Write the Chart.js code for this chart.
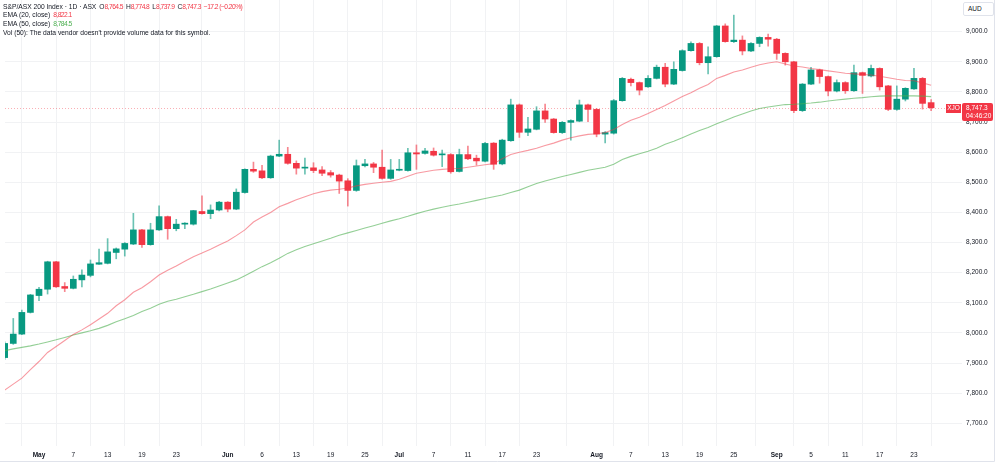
<!DOCTYPE html>
<html>
<head>
<meta charset="utf-8">
<script src="https://cdn.jsdelivr.net/npm/chart.js@4.4.0/dist/chart.umd.min.js"></script>
<style>
  html, body { margin: 0; padding: 0; background: #fff; }
  #wrap { position: relative; width: 1000px; height: 464px; font-family: "Liberation Sans", Arial, sans-serif; }
  #legend { position: absolute; left: 3px; top: 2.5px; font-size: 6.7px; line-height: 8.7px; color: #131722; white-space: nowrap; }
  #legend .v { letter-spacing: -0.55px; }
  #legend .r { color: #f23645; }
  #legend .g { color: #4caf50; }
  #legend b { font-weight: normal; margin-left: 3px; }
  #cur { position: absolute; left: 963px; top: 2px; width: 29px; height: 12px; border: 1px solid #e0e3eb; border-radius: 2px;
         font-size: 6.5px; line-height: 12px; color: #131722; text-indent: 4px; background: #fff; }
</style>
</head>
<body>
<div id="wrap">
  <canvas id="c" width="1000" height="464"></canvas>
  <div id="legend">
    <div>S&amp;P/ASX 200 Index · 1D · ASX<b>O<span class="v r">8,764.5</span></b><b>H<span class="v r">8,774.8</span></b><b>L<span class="v r">8,737.9</span></b><b>C<span class="v r">8,747.3</span></b><b class="v r">−17.2 (−0.20%)</b></div>
    <div>EMA (20, close)<b class="v r">8,822.1</b></div>
    <div>EMA (50, close)<b class="v g">8,784.5</b></div>
    <div>Vol (50): The data vendor doesn't provide volume data for this symbol.</div>
  </div>
  <div id="cur">AUD</div>
</div>
<script>
const days = ['Apr 24','Apr 28','Apr 29','Apr 30',
  'May 1','May 2','May 5','May 6','May 7','May 8','May 9','May 12','May 13','May 14','May 15','May 16','May 19','May 20','May 21','May 22','May 23','May 26','May 27','May 28','May 29','May 30',
  'Jun 2','Jun 3','Jun 4','Jun 5','Jun 6','Jun 10','Jun 11','Jun 12','Jun 13','Jun 16','Jun 17','Jun 18','Jun 19','Jun 20','Jun 23','Jun 24','Jun 25','Jun 26','Jun 27','Jun 30',
  'Jul 1','Jul 2','Jul 3','Jul 4','Jul 7','Jul 8','Jul 9','Jul 10','Jul 11','Jul 14','Jul 15','Jul 16','Jul 17','Jul 18','Jul 21','Jul 22','Jul 23','Jul 24','Jul 25','Jul 28','Jul 29','Jul 30','Jul 31',
  'Aug 1','Aug 4','Aug 5','Aug 6','Aug 7','Aug 8','Aug 11','Aug 12','Aug 13','Aug 14','Aug 15','Aug 18','Aug 19','Aug 20','Aug 21','Aug 22','Aug 25','Aug 26','Aug 27','Aug 28','Aug 29',
  'Sep 1','Sep 2','Sep 3','Sep 4','Sep 5','Sep 8','Sep 9','Sep 10','Sep 11','Sep 12','Sep 15','Sep 16','Sep 17','Sep 18','Sep 19','Sep 22','Sep 23','Sep 24','Sep 25'];

const open = [7918,7965,7996,8068,8124,8145,8236,8154,8148,8176,8191,8228,8231,8267,8278,8295,8342,8293,8342,8386,8346,8361,8361,8403,8396,8408,
  8434,8411,8466,8543,8538,8515,8587,8593,8563,8547,8548,8541,8532,8524,8505,8473,8555,8561,8550,8513,
  8540,8539,8598,8596,8603,8591,8592,8536,8592,8580,8570,8630,8561,8638,8757,8666,8676,8737,8710,8665,8699,8703,8757,
  8742,8660,8663,8771,8842,8831,8817,8845,8882,8826,8871,8937,8961,8897,8917,9019,8967,8972,8936,8961,8981,
  8975,8928,8900,8738,8826,8873,8851,8803,8831,8804,8864,8853,8878,8820,8742,8776,8810,8845,8764.5];
const high = [7970,8048,8076,8128,8151,8238,8238,8167,8189,8209,8242,8278,8313,8282,8300,8397,8344,8364,8422,8388,8377,8366,8407,8455,8425,8437,
  8436,8478,8545,8567,8556,8590,8640,8616,8571,8580,8565,8552,8539,8527,8512,8574,8576,8566,8607,8576,
  8576,8613,8624,8613,8614,8607,8595,8610,8620,8590,8633,8632,8643,8776,8760,8716,8751,8760,8712,8702,8707,8773,8760,
  8745,8668,8775,8848,8846,8833,8854,8889,8895,8900,8940,8966,8964,8950,9021,9026,9055,8986,8964,8983,8992,
  8978,8930,8902,8828,8882,8876,8853,8840,8834,8889,8866,8889,8880,8822,8820,8814,8878,8848,8774.8];
const low = [7912,7962,7994,8066,8107,8129,8151,8137,8146,8153,8186,8227,8229,8246,8255,8293,8284,8291,8340,8311,8339,8346,8358,8394,8379,8405,
  8402,8409,8464,8533,8512,8513,8585,8560,8527,8527,8532,8522,8517,8463,8421,8470,8551,8532,8510,8510,
  8538,8537,8543,8593,8587,8552,8530,8534,8575,8557,8568,8543,8558,8636,8649,8655,8674,8699,8663,8662,8640,8701,8701,
  8651,8631,8660,8769,8820,8790,8815,8843,8817,8824,8869,8935,8890,8860,8915,8965,8964,8923,8934,8950,8952,
  8908,8889,8731,8735,8824,8829,8787,8800,8795,8802,8795,8850,8806,8738,8739,8770,8808,8743,8737.9];
const close = [7965,7996,8068,8126,8145,8236,8153,8148,8178,8192,8229,8233,8269,8279,8297,8342,8293,8342,8386,8346,8361,8362,8406,8396,8408,8434,
  8411,8467,8543,8537,8515,8587,8593,8563,8547,8549,8539,8530,8524,8504,8473,8555,8561,8550,8513,8541,
  8543,8598,8594,8604,8590,8592,8535,8592,8578,8571,8629,8560,8640,8757,8666,8677,8737,8710,8665,8699,8705,8757,8742,
  8660,8665,8771,8845,8831,8806,8845,8882,8826,8875,8937,8961,8897,8917,9019,8967,8972,8936,8961,8981,8975,
  8928,8900,8738,8826,8873,8851,8803,8831,8804,8864,8855,8878,8817,8742,8776,8812,8845,8762,8747.3];

const ema20 = [7810,7830,7850,7878,7905,7935,7955,7975,7995,8010,8027,8046,8065,8090,8110,8135,8150,8170,8192,8208,8222,8238,8253,8265,8278,8292,
  8305,8323,8342,8368,8385,8400,8419,8430,8442,8452,8462,8469,8474,8477,8481,8488,8493,8497,8500,8503,
  8510,8520,8530,8535,8540,8543,8545,8546,8550,8554,8558,8562,8578,8592,8600,8606,8613,8622,8630,8640,8648,8654,8659,
  8661,8665,8675,8692,8706,8716,8728,8742,8755,8770,8785,8797,8812,8825,8845,8855,8866,8873,8882,8890,8896,
  8900,8893,8886,8883,8878,8874,8870,8866,8862,8860,8858,8856,8852,8847,8842,8838,8837,8830,8822.1];
const ema50 = [7941,7947,7952,7957,7963,7970,7977,7985,7993,8000,8007,8015,8025,8037,8047,8058,8071,8082,8095,8105,8112,8120,8128,8137,8146,8156,
  8166,8176,8190,8205,8220,8233,8248,8264,8276,8287,8296,8305,8314,8324,8332,8340,8348,8356,8364,8372,
  8379,8387,8396,8404,8411,8417,8423,8428,8434,8440,8446,8452,8458,8466,8474,8485,8496,8504,8512,8519,8526,8533,8540,
  8545,8550,8560,8576,8586,8595,8603,8613,8626,8636,8648,8660,8672,8682,8694,8705,8717,8727,8737,8745,8750,
  8754,8758,8759,8761,8763,8766,8770,8773,8776,8779,8781,8784,8786,8787,8787,8787,8787,8786,8784.5];

const tickDays = ['May 1','May 7','May 13','May 19','May 23','Jun 2','Jun 6','Jun 13','Jun 19','Jun 25','Jul 1','Jul 7','Jul 11','Jul 17','Jul 23',
  'Aug 1','Aug 7','Aug 13','Aug 19','Aug 25','Sep 1','Sep 5','Sep 11','Sep 17','Sep 23'];
const tickLabels = ['May','7','13','19','23','Jun','6','13','19','25','Jul','7','11','17','23','Aug','7','13','19','25','Sep','5','11','17','23'];
const months = ['May','Jun','Jul','Aug','Sep'];
const yTicks = [7700,7800,7900,8000,8100,8200,8300,8400,8500,8600,8700,8800,8900,9000];

const UP = '#089981', DOWN = '#f23645';
const UP_WICK = 'rgba(8,153,129,0.6)', DOWN_WICK = 'rgba(242,54,69,0.6)';
const lastPrice = close[close.length - 1];
const tickPos = tickDays.map(d => days.indexOf(d));

const isUp = (i) => close[i] >= open[i];

const overlay = {
  id: 'overlay',
  beforeDatasetsDraw(chart) {
    const { ctx, chartArea: a, scales: { y } } = chart;
    const py = Math.round(y.getPixelForValue(lastPrice)) + 0.5;
    ctx.save();
    ctx.strokeStyle = 'rgba(242,54,69,0.4)';
    ctx.lineWidth = 1;
    ctx.setLineDash([1, 2]);
    ctx.beginPath();
    ctx.moveTo(a.left, py);
    ctx.lineTo(a.right, py);
    ctx.stroke();
    ctx.restore();
  },
  afterDraw(chart) {
    const { ctx, chartArea: a, scales: { y } } = chart;
    const py = Math.round(y.getPixelForValue(lastPrice));
    ctx.save();
    // frame
    ctx.strokeStyle = '#e0e3eb';
    ctx.lineWidth = 1;
    ctx.beginPath();
    ctx.moveTo(994.5, 0);
    ctx.lineTo(994.5, 461.5);
    ctx.lineTo(0, 461.5);
    ctx.stroke();
    // symbol tag
    ctx.fillStyle = DOWN;
    ctx.fillRect(a.right - 16, py - 4, 15, 9);
    // price tag
    ctx.beginPath();
    ctx.roundRect(a.right, py - 5, 31, 18, 2);
    ctx.fill();
    ctx.fillStyle = '#fff';
    ctx.font = '6.5px "Liberation Sans", Arial, sans-serif';
    ctx.textBaseline = 'middle';
    ctx.textAlign = 'center';
    ctx.fillText('XJO', a.right - 8.5, py + 0.5);
    ctx.textAlign = 'left';
    ctx.fillText(lastPrice.toLocaleString('en-US', { minimumFractionDigits: 1 }), a.right + 4, py);
    ctx.fillText('04:46:20', a.right + 4, py + 8);
    ctx.restore();
  }
};

const xs = days.map((d, i) => i);

new Chart(document.getElementById('c'), {
  type: 'bar',
  data: {
    datasets: [
      {
        type: 'line', label: 'EMA 20', order: 1,
        data: xs.map(i => ({ x: i, y: ema20[i] })),
        borderColor: 'rgba(242,54,69,0.5)', borderWidth: 1.1, pointRadius: 0, tension: 0
      },
      {
        type: 'line', label: 'EMA 50', order: 1,
        data: xs.map(i => ({ x: i, y: ema50[i] })),
        borderColor: 'rgba(76,175,80,0.6)', borderWidth: 1.1, pointRadius: 0, tension: 0
      },
      {
        label: 'wick', order: 3,
        data: xs.map(i => ({ x: i, y: [low[i], high[i]] })),
        backgroundColor: (c) => isUp(c.dataIndex) ? UP_WICK : DOWN_WICK, barThickness: 1, grouped: false
      },
      {
        label: 'body', order: 2,
        data: xs.map(i => ({ x: i, y: [open[i], close[i]] })),
        backgroundColor: (c) => isUp(c.dataIndex) ? UP : DOWN, barThickness: 6, minBarLength: 1, grouped: false
      }
    ]
  },
  options: {
    responsive: false,
    animation: false,
    events: [],
    layout: { padding: { left: 5, right: 0, top: 0, bottom: 3 } },
    plugins: { legend: { display: false }, tooltip: { enabled: false } },
    scales: {
      x: {
        type: 'linear',
        min: 0.036,
        max: 111.6,
        offset: false,
        border: { display: false },
        grid: { color: '#f1f2f4', drawTicks: false },
        afterBuildTicks: (s) => { s.ticks = tickPos.map(v => ({ value: v })); },
        afterFit: (s) => { s.height = 15; s.paddingLeft = 0; s.paddingRight = 0; },
        ticks: {
          autoSkip: false,
          maxRotation: 0,
          padding: 5,
          color: '#131722',
          font: (c) => ({ family: '"Liberation Sans", Arial, sans-serif', size: 6.5,
            weight: c.tick && months.includes(c.tick.label) ? 'bold' : 'normal' }),
          callback: (v) => tickLabels[tickPos.indexOf(v)]
        }
      },
      y: {
        position: 'right',
        min: 7624.5,
        max: 9105.2,
        border: { display: false },
        grid: { color: '#f1f2f4', drawTicks: false },
        afterBuildTicks: (s) => { s.ticks = yTicks.map(v => ({ value: v })); },
        afterFit: (s) => { s.width = 38; s.paddingTop = 0; s.paddingBottom = 0; },
        ticks: {
          padding: 4,
          color: '#131722',
          font: { family: '"Liberation Sans", Arial, sans-serif', size: 6.5 },
          callback: (v) => v.toLocaleString('en-US', { minimumFractionDigits: 1 })
        }
      }
    }
  },
  plugins: [overlay]
});
</script>
</body>
</html>
